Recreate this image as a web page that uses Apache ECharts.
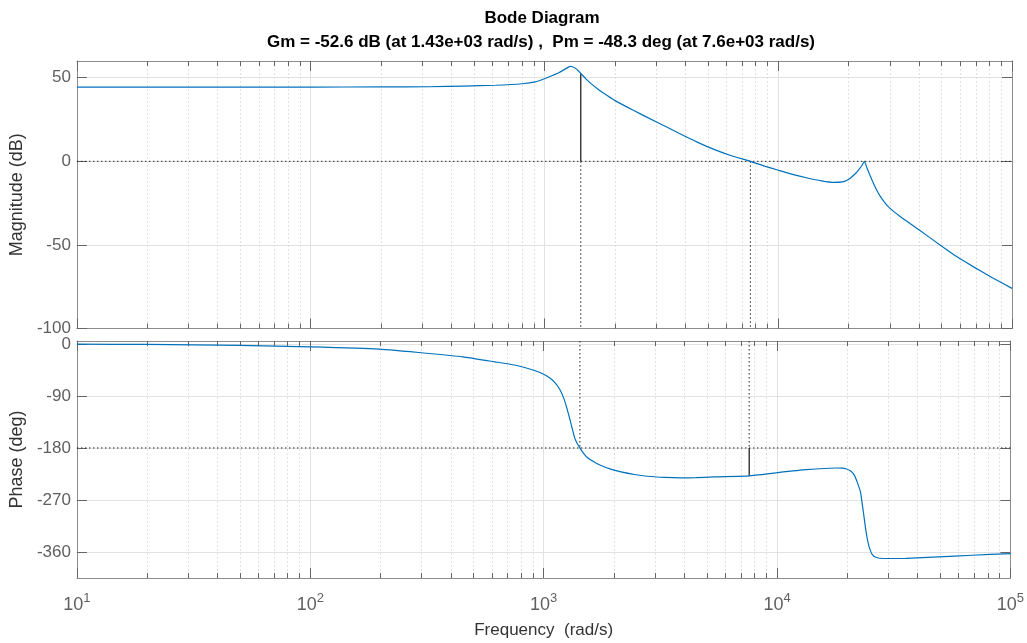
<!DOCTYPE html>
<html><head><meta charset="utf-8">
<script src="https://cdn.jsdelivr.net/npm/echarts@6/dist/echarts.min.js"></script>
<style>html,body{margin:0;padding:0;background:#fff}#c{width:1027px;height:643px}</style>
</head><body><div id="c"></div>
<script>
// ---- data ----
const magFreq = [10, 30, 100, 200, 322, 450, 617, 804, 913, 1000, 1080, 1151, 1220, 1260, 1291, 1320, 1356, 1395, 1430, 1500, 1597, 1700, 1800, 2005, 2400, 2780, 3300, 3855, 4500, 5345, 6400, 7600, 8800, 9934, 11500, 13330, 15300, 17300, 18800, 19700, 20370, 21500, 22120, 22800, 23390, 23900, 24790, 25800, 26500, 27330, 28500, 30000, 33240, 40000, 49200, 58000, 68200, 82000, 100000];
const magDb   = [44.4, 44.4, 44.4, 44.5, 44.6, 45.0, 45.5, 46.4, 47.5, 49.4, 51.3, 53.0, 55.0, 56.2, 56.8, 56.6, 55.6, 54.2, 52.6, 49.5, 46.0, 43.0, 40.5, 36.3, 30.5, 26.0, 20.8, 16.0, 11.5, 7.0, 3.0, 0.0, -3.0, -5.2, -7.8, -10.0, -11.7, -12.6, -12.3, -11.3, -10.0, -7.0, -5.0, -2.5, 0.0, -3.5, -9.0, -14.5, -17.8, -21.0, -24.5, -28.0, -33.0, -41.0, -50.0, -57.0, -63.0, -69.5, -76.0];
const phaseFreq = [10, 20, 50, 100, 197, 322, 450, 617, 750, 913, 1000, 1060, 1115, 1170, 1218, 1255, 1290, 1325, 1356, 1390, 1430, 1480, 1534, 1640, 1750, 1950, 2146, 2450, 2780, 3300, 3855, 4500, 5345, 7600, 9934, 13330, 17950, 19000, 19740, 20700, 21440, 22100, 22770, 23150, 23530, 23900, 24320, 24700, 25000, 25560, 26500, 28630, 35720, 49200, 68200, 100000];
const phaseDeg  = [-0.5, -1.0, -2.6, -5.3, -9.2, -16.6, -22.5, -31.0, -36.5, -46.0, -52.5, -58.5, -66.5, -78.0, -93.4, -110.0, -127.6, -146.0, -161.7, -172.0, -180.0, -189.0, -196.0, -204.0, -210.0, -217.0, -221.5, -226.0, -229.0, -231.0, -231.8, -231.5, -230.0, -228.3, -223.0, -217.6, -214.7, -215.0, -216.0, -220.0, -227.0, -240.0, -255.7, -275.0, -295.6, -316.0, -335.4, -348.0, -355.0, -364.0, -369.0, -371.3, -371.0, -368.4, -365.6, -362.7];

const magTicks   = [-100, -50, 0, 50];
const phaseTicks = [-360, -270, -180, -90, 0];
const decadeTicks = [10, 100, 1000, 10000, 100000];
const minorTicks = [20,30,40,50,60,70,80,90, 200,300,400,500,600,700,800,900, 2000,3000,4000,5000,6000,7000,8000,9000, 20000,30000,40000,50000,60000,70000,80000,90000];

// gain / phase margin markers
const gmFreq = [1430];   const gmMag = [52.6];     // Gm = -52.6 dB
const pmFreq = [7600];   const pmPhase = [-228.3]; // Pm = -48.3 deg
const magRef = [0];      const phaseRef = [-180];
const magRange = [-100, 60];
const phaseRange = [-405, 5];
const freqRange = [10, 100000];

const titleText = 'Bode Diagram';
const subtitleText = 'Gm = -52.6 dB (at 1.43e+03 rad/s) ,  Pm = -48.3 deg (at 7.6e+03 rad/s)';

// ---- chart ----
const FONT = 'Liberation Sans, Arial, sans-serif';
const BOX = '#8c8c8c';
const LBL = '#5f5f5f';
const GRIDC = '#e2e2e2';
const TICKC = '#666';
const chart = echarts.init(document.getElementById('c'), null, {renderer: 'canvas'});

const grids = [
  {left: 72, top: 61, width: 940, height: 267.5},
  {left: 72, top: 341, width: 940, height: 237}
];

function xAxes(gi, withLabels) {
  const base = {type: 'log', logBase: 10, min: freqRange[0], max: freqRange[1], gridIndex: gi};
  return [
    Object.assign({}, base, {position: 'bottom',
      axisLine: {show: true, onZero: false, lineStyle: {color: BOX, width: 1}},
      axisTick: {show: true, inside: true, length: 10, customValues: decadeTicks, lineStyle: {color: TICKC}},
      axisLabel: withLabels ? {show: true, customValues: decadeTicks, margin: 14,
        formatter: function (v) { return '{b|10}{e|' + Math.round(Math.log10(v)) + '}'; },
        rich: {b: {fontFamily: FONT, fontSize: 18, color: LBL, lineHeight: 22, verticalAlign: 'bottom'},
               e: {fontFamily: FONT, fontSize: 13, color: LBL, lineHeight: 13, verticalAlign: 'top'}}} : {show: false},
      splitLine: {show: true, lineStyle: {color: GRIDC, width: 1}},
      name: withLabels ? 'Frequency  (rad/s)' : '', nameLocation: 'middle', nameGap: 44,
      nameTextStyle: {fontFamily: FONT, fontSize: 17, color: '#333'}}),
    Object.assign({}, base, {position: 'top',
      axisLine: {show: true, onZero: false, lineStyle: {color: BOX, width: 1}},
      axisTick: {show: true, inside: true, length: 10, customValues: decadeTicks, lineStyle: {color: TICKC}},
      axisLabel: {show: false}, splitLine: {show: false}}),
    Object.assign({}, base, {position: 'bottom',
      axisLine: {show: false, onZero: false},
      axisTick: {show: true, inside: true, length: 5, customValues: minorTicks, lineStyle: {color: TICKC}},
      axisLabel: {show: false},
      splitLine: {show: true, lineStyle: {color: GRIDC, width: 1, type: [2, 2]}}}),
    Object.assign({}, base, {position: 'top',
      axisLine: {show: false, onZero: false},
      axisTick: {show: true, inside: true, length: 5, customValues: minorTicks, lineStyle: {color: TICKC}},
      axisLabel: {show: false}, splitLine: {show: false}})
  ];
}

function yAxes(gi, range, ticks, name) {
  const base = {type: 'value', min: range[0], max: range[1], gridIndex: gi};
  return [
    Object.assign({}, base, {position: 'left',
      axisLine: {show: true, onZero: false, lineStyle: {color: BOX, width: 1}},
      axisTick: {show: true, inside: true, length: 10, customValues: ticks, lineStyle: {color: TICKC}},
      axisLabel: {show: true, customValues: ticks, margin: 6, fontFamily: FONT, fontSize: 17, color: LBL},
      splitLine: {show: true, lineStyle: {color: GRIDC, width: 1}},
      name: name, nameLocation: 'middle', nameGap: 44, nameRotate: 90,
      nameTextStyle: {fontFamily: FONT, fontSize: 18, color: '#333'}}),
    Object.assign({}, base, {position: 'right',
      axisLine: {show: true, onZero: false, lineStyle: {color: BOX, width: 1}},
      axisTick: {show: true, inside: true, length: 10, customValues: ticks, lineStyle: {color: TICKC}},
      axisLabel: {show: false}, splitLine: {show: false}})
  ];
}

const dotted = {color: '#222', width: 1, type: [1.5, 2.5]};
const solid = {color: '#111', width: 1.2};
function seg(name, xi, yi, pts, style) {
  return {name: name, type: 'line', xAxisIndex: xi, yAxisIndex: yi, data: pts, symbol: 'none',
    silent: true, lineStyle: style, z: 3, animation: false};
}

const magData = magFreq.map((f, i) => [f, magDb[i]]);
const phaseData = phaseFreq.map((f, i) => [f, phaseDeg[i]]);

const option = {
  animation: false,
  backgroundColor: '#fff',
  grid: grids,
  xAxis: xAxes(0, false).concat(xAxes(1, true)),
  yAxis: yAxes(0, magRange, magTicks, 'Magnitude (dB)').concat(yAxes(1, phaseRange, phaseTicks, 'Phase (deg)')),
  graphic: [
    {type: 'text', x: 542, y: 18, style: {text: titleText, align: 'center', verticalAlign: 'middle',
      font: 'bold 17px ' + FONT, fill: '#000'}},
    {type: 'text', x: 541, y: 42, style: {text: subtitleText, align: 'center', verticalAlign: 'middle',
      font: 'bold 17px ' + FONT, fill: '#000'}}
  ],
  series: [
    seg('0 dB', 0, 0, [[freqRange[0], magRef[0]], [freqRange[1], magRef[0]]], dotted),
    seg('gm dotted', 0, 0, [[gmFreq[0], magRef[0]], [gmFreq[0], magRange[0]]], dotted),
    seg('pm dotted', 0, 0, [[pmFreq[0], magRef[0]], [pmFreq[0], magRange[0]]], dotted),
    seg('gm solid', 0, 0, [[gmFreq[0], magRef[0]], [gmFreq[0], gmMag[0]]], solid),
    {name: 'Magnitude', type: 'line', xAxisIndex: 0, yAxisIndex: 0, data: magData, symbol: 'none',
      smooth: 0.15, lineStyle: {color: '#0072bd', width: 1.2}, z: 4},
    seg('-180', 4, 2, [[freqRange[0], phaseRef[0]], [freqRange[1], phaseRef[0]]], dotted),
    seg('gm dotted 2', 4, 2, [[gmFreq[0], phaseRange[1]], [gmFreq[0], phaseRef[0]]], dotted),
    seg('pm dotted 2', 4, 2, [[pmFreq[0], phaseRange[1]], [pmFreq[0], phaseRef[0]]], dotted),
    seg('pm solid', 4, 2, [[pmFreq[0], phaseRef[0]], [pmFreq[0], pmPhase[0]]], solid),
    {name: 'Phase', type: 'line', xAxisIndex: 4, yAxisIndex: 2, data: phaseData, symbol: 'none',
      smooth: 0.15, lineStyle: {color: '#0072bd', width: 1.2}, z: 4}
  ]
};
chart.setOption(option);
</script></body></html>
